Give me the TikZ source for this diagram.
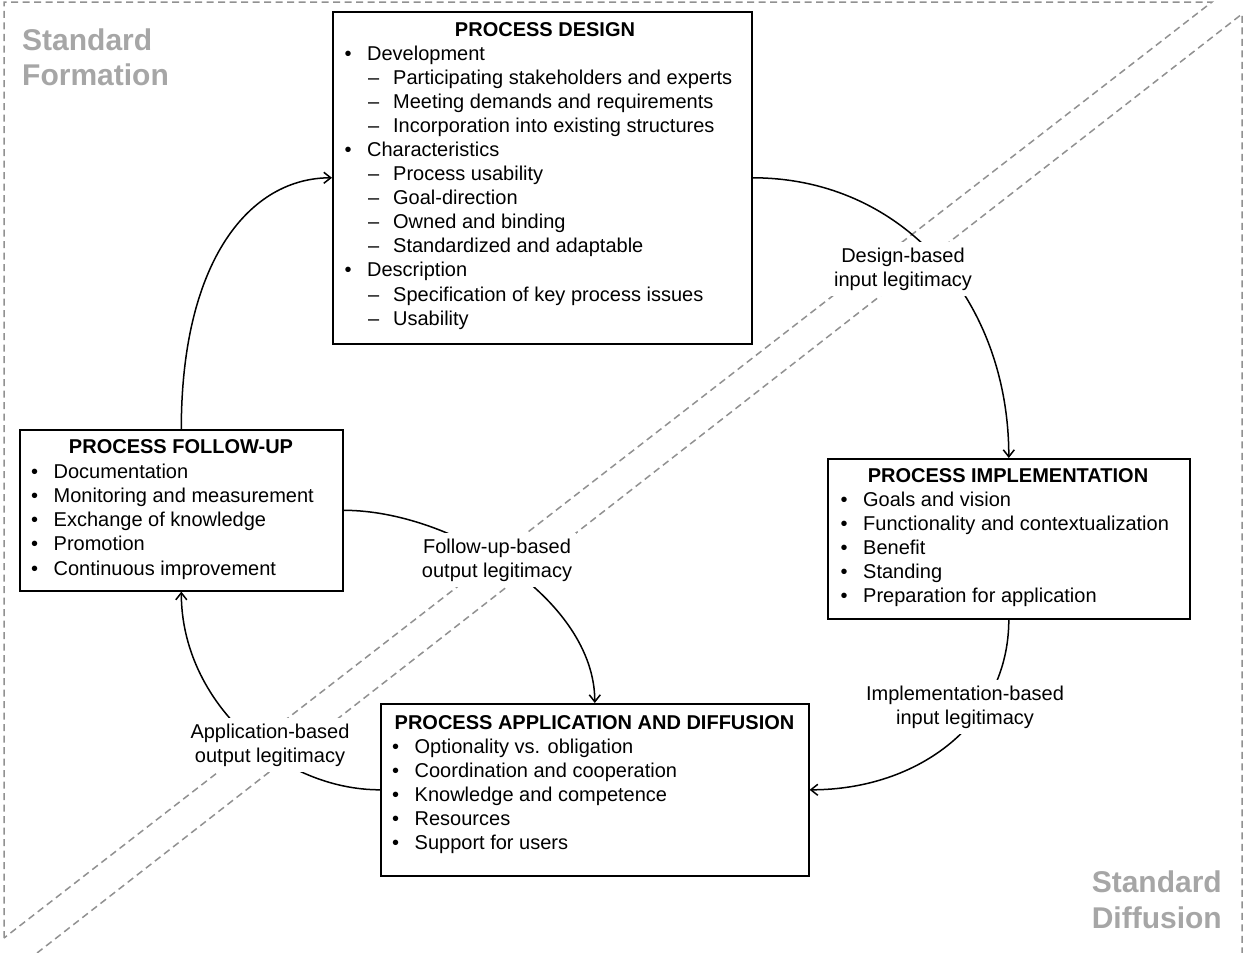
\documentclass[tikz,border=0pt]{standalone}
\usepackage{fontspec}
\setmainfont{Liberation Sans}
\usetikzlibrary{arrows.meta}
\definecolor{sepgray}{RGB}{145,145,145}
\definecolor{regiongray}{RGB}{166,166,166}
\newcommand\bodyfont{\fontsize{20}{24.2}\selectfont}
\newcommand\itembul{\makebox[22.5pt][l]{\textbullet}}
\newcommand\itemdash{\makebox[25pt][l]{\textendash}}
\pgfdeclarelayer{background}
\pgfsetlayers{background,main}
\begin{document}
\begin{tikzpicture}[x=1pt,y=-1pt,
  box/.style={draw=black, line width=1.6pt, fill=white, inner sep=0pt, anchor=north west},
  head/.style={font=\bodyfont\bfseries, inner sep=0pt, anchor=base},
  itm/.style={font=\bodyfont, inner sep=0pt, anchor=base west},
  lbl/.style={font=\bodyfont, fill=white, align=center, inner xsep=4pt, inner ysep=6pt},
  conn/.style={line width=1.5pt, -{Straight Barb[length=7pt,width=11pt]}},
  sepline/.style={draw=sepgray, line width=1.5pt, dash pattern=on 7pt off 4.5pt},
  region/.style={font=\fontsize{30}{35}\selectfont\bfseries, text=regiongray, inner sep=0pt}
]
\useasboundingbox (0,0) rectangle (1245,953);

% region texts
\node[region, anchor=base west] (rf1) at (22,50) {Standard};
\node[region, anchor=base west] (rf2) at (22,85) {Formation};
\node[region, anchor=base east] (rd1) at (1222,892) {Standard};
\node[region, anchor=base east] (rd2) at (1222,928) {Diffusion};

% boxes
\node[box, minimum width=419pt, minimum height=332pt] (design) at (332,11) {};
\node[box, minimum width=323pt, minimum height=161pt] (fu) at (19,429) {};
\node[box, minimum width=362pt, minimum height=160pt] (impl) at (827,458) {};
\node[box, minimum width=428pt, minimum height=172pt] (app) at (380,703) {};

% process design
\node[head] (dhead) at (545,36) {PROCESS DESIGN};
\node[itm] (d0) at (344.5,60) {\itembul Development};
\node[itm] (d1) at (368,84.1) {\itemdash Participating stakeholders and experts};
\node[itm] (d2) at (368,108.2) {\itemdash Meeting demands and requirements};
\node[itm] (d3) at (368,132.3) {\itemdash Incorporation into existing structures};
\node[itm] (d4) at (344.5,156.4) {\itembul Characteristics};
\node[itm] (d5) at (368,180.5) {\itemdash Process usability};
\node[itm] (d6) at (368,204.6) {\itemdash Goal-direction};
\node[itm] (d7) at (368,228.7) {\itemdash Owned and binding};
\node[itm] (d8) at (368,252.8) {\itemdash Standardized and adaptable};
\node[itm] (d9) at (344.5,276.9) {\itembul Description};
\node[itm] (d10) at (368,301) {\itemdash Specification of key process issues};
\node[itm] (d11) at (368,325.1) {\itemdash Usability};

% process follow-up
\node[head] (fhead) at (181,453) {PROCESS FOLLOW-UP};
\foreach \t [count=\i from 0] in {Documentation, Monitoring and measurement, Exchange of knowledge, Promotion, Continuous improvement}
  \node[itm, name=f\i] at (31,478+24.25*\i) {\itembul\t};

% process implementation
\node[head] (ihead) at (1008,482) {PROCESS IMPLEMENTATION};
\foreach \t [count=\i from 0] in {Goals and vision, Functionality and contextualization, Benefit, Standing, Preparation for application}
  \node[itm, name=i\i] at (840.5,506.5+24.1*\i) {\itembul\t};

% process application
\node[head] (ahead) at (594.5,729) {PROCESS APPLICATION AND DIFFUSION};
\foreach \t [count=\i from 0] in {Optionality vs. obligation, Coordination and cooperation, Knowledge and competence, Resources, Support for users}
  \node[itm, name=a\i] at (392,753+24*\i) {\itembul\t};

% connector labels
\node[lbl] (ldesign) at (903,269) {Design-based\\input legitimacy};
\node[lbl] (limpl) at (965,707) {Implementation-based\\input legitimacy};
\node[lbl] (lapp) at (270,745) {Application-based\\output legitimacy};
\node[lbl] (lfu) at (497,560) {Follow-up-based\\output legitimacy};

\begin{pgfonlayer}{background}
\draw[sepline] (4,938) -- (4,2) -- (1212,2) -- cycle;
\draw[sepline] (37,953) -- (1242,14) -- (1242,953);
\draw[conn] (design.east) .. controls +(150,0) and +(0,-158) .. (impl.north);
\draw[conn] (impl.south) .. controls +(0,102) and +(110,0) .. (app.east);
\draw[conn] (app.west) .. controls +(-100,0) and +(0,110) .. (fu.south);
\draw[conn] (fu.north) .. controls +(0,-169) and +(-82,0) .. (design.west);
\draw[conn] (fu.east) .. controls +(108,0) and +(0,-103) .. (app.north);
\end{pgfonlayer}
\end{tikzpicture}
\end{document}
